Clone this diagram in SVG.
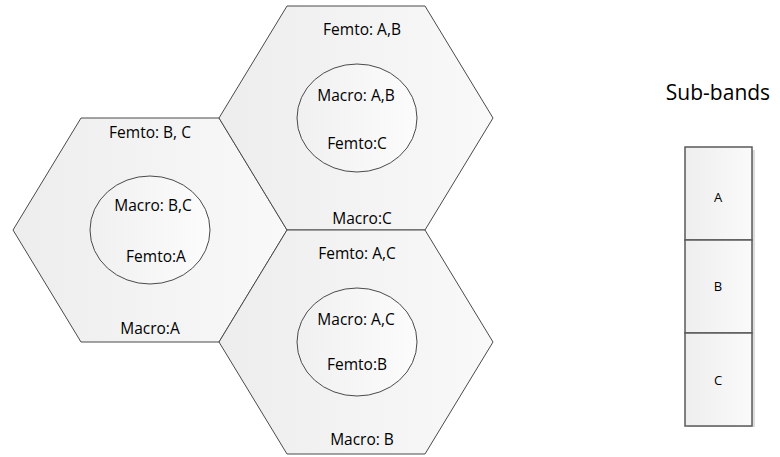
<svg xmlns="http://www.w3.org/2000/svg" width="780" height="457" viewBox="0 0 780 457">
<defs>
<linearGradient id="hexFill" x1="0" y1="0" x2="1" y2="0">
<stop offset="0" stop-color="#ededed"/>
<stop offset="1" stop-color="#f9f9f9"/>
</linearGradient>
<linearGradient id="circFill" x1="0" y1="0" x2="1" y2="0">
<stop offset="0" stop-color="#f0f0f0"/>
<stop offset="1" stop-color="#fcfcfc"/>
</linearGradient>
<linearGradient id="bandFill" x1="0" y1="0" x2="1" y2="0">
<stop offset="0" stop-color="#eeeeee"/>
<stop offset="1" stop-color="#fafafa"/>
</linearGradient>
</defs>
<style>
.hex{fill:url(#hexFill);stroke:#4a4a4a;stroke-width:1}
.cell{fill:url(#circFill);stroke:#4a4a4a;stroke-width:1}
.t{font-family:"Open Sans","Noto Sans","Liberation Sans",sans-serif;font-size:15.5px;fill:#000;text-anchor:middle}
.band{fill:url(#bandFill);stroke:#5a5a5a;stroke-width:1.5}
.bt{font-family:"Open Sans","Noto Sans","Liberation Sans",sans-serif;font-size:13px;fill:#000;text-anchor:middle}
.title{font-family:"Open Sans","Noto Sans","Liberation Sans",sans-serif;font-size:21px;fill:#000;text-anchor:middle}
</style>
<rect width="780" height="457" fill="#ffffff"/>

<g id="hex-left">
<polygon class="hex" points="13,230 81,118 219,118 287,230 219,342 81,342"/>
<ellipse class="cell" cx="150" cy="230" rx="60" ry="54"/>
<text class="t" x="150" y="138">Femto: B, C</text>
<text class="t" x="153" y="211">Macro: B,C</text>
<text class="t" x="156" y="262">Femto:A</text>
<text class="t" x="150" y="334">Macro:A</text>
</g>

<g id="hex-top">
<polygon class="hex" points="219,118 287,6 425,6 493,118 425,230 287,230"/>
<ellipse class="cell" cx="357" cy="118" rx="60" ry="54"/>
<text class="t" x="362" y="35">Femto: A,B</text>
<text class="t" x="356" y="101">Macro: A,B</text>
<text class="t" x="357" y="149">Femto:C</text>
<text class="t" x="362" y="224">Macro:C</text>
</g>

<g id="hex-bottom">
<polygon class="hex" points="219,342 287,230 425,230 493,342 425,454 287,454"/>
<ellipse class="cell" cx="357" cy="342" rx="60" ry="54"/>
<text class="t" x="357" y="259">Femto: A,C</text>
<text class="t" x="356" y="325">Macro: A,C</text>
<text class="t" x="357" y="370">Femto:B</text>
<text class="t" x="362" y="445">Macro: B</text>
</g>

<g id="sub-bands">
<text class="title" x="718" y="100">Sub-bands</text>
<rect x="688" y="150" width="67" height="277" fill="#dcdcdc"/>
<rect class="band" x="685" y="147" width="67" height="93"/>
<rect class="band" x="685" y="240" width="67" height="93"/>
<rect class="band" x="685" y="333" width="67" height="93"/>
<text class="bt" x="718" y="202">A</text>
<text class="bt" x="718" y="291">B</text>
<text class="bt" x="718" y="385">C</text>
</g>
</svg>
